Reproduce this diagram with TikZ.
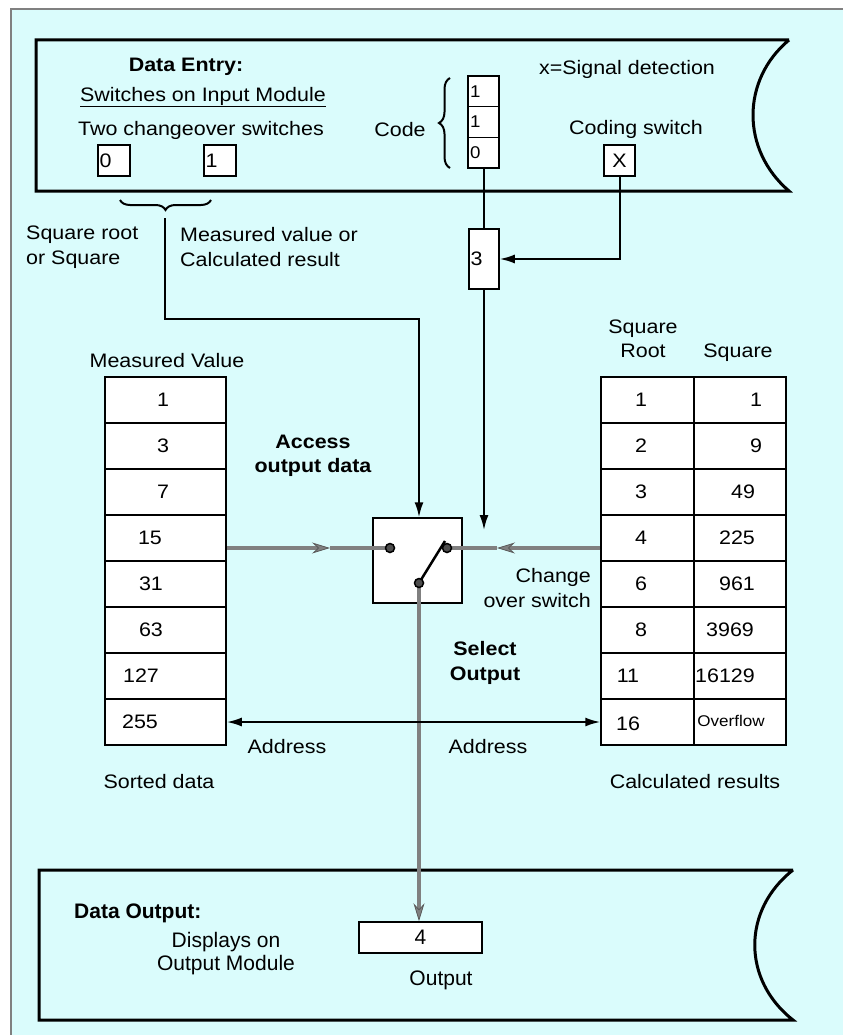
\documentclass[tikz,border=0pt]{standalone}
\usepackage{fontspec}
\setmainfont[FakeStretch=1.1]{Liberation Sans}
\newfontfamily\plainsans{Liberation Sans}
\usetikzlibrary{arrows.meta,decorations.pathreplacing}
\definecolor{bgc}{RGB}{218,252,252}
\definecolor{wirec}{RGB}{128,128,128}
\newcommand\mainsz{\fontsize{19.5}{24.5}\selectfont}
\newcommand\botsz{\plainsans\fontsize{21}{23}\selectfont}
\begin{document}
\begin{tikzpicture}[x=1pt,y=-1pt,
  txt/.style={font=\mainsz, inner sep=0pt, align=center},
  btxt/.style={font=\mainsz\bfseries, inner sep=0pt, align=center},
  box/.style={draw, line width=1.5pt, fill=white, inner sep=0pt, font=\mainsz},
  cell/.style={draw, line width=1.5pt, fill=white, inner sep=0pt, minimum height=46pt},
  blk/.style={line width=2pt},
  arr/.style={-{Latex[length=15pt,width=9pt]}},
  wire/.style={draw=wirec, line width=4pt},
  warr/.style={-{Stealth[length=18pt,width=11pt,inset=6pt,fill=wirec,color=wirec!70!black,line width=0.8pt]}},
  contact/.style={circle, draw, fill=wirec!60!black, line width=1.5pt, minimum size=9pt, inner sep=0pt},
  panel/.style={line width=3pt},
  brc/.style={decorate, line width=2pt}
]
\useasboundingbox (0,0) rectangle (843,1035);
\fill[bgc] (11,9) rectangle (843,1035);
\draw[wirec, line width=1.5pt] (11,1035) -- (11,9) -- (843,9);

% top panel
\draw[panel] (789,40) -- (36,40) -- (36,191) -- (789,191) .. controls (741,150) and (741,80) .. (789,40);
\node[btxt] (tEntry) at (186,67) {Data Entry:};
\node[txt] (tSwitches) at (203,97) {\underline{Switches on Input Module}};
\node[txt] (tTwo) at (201,130) {Two changeover switches};
\node[box, minimum width=32pt, minimum height=31pt, text width=29pt, align=left, inner xsep=1.5pt] (S0) at (114,160.5) {0};
\node[box, minimum width=32pt, minimum height=31pt, text width=29pt, align=left, inner xsep=1.5pt] (S1) at (220,160.5) {1};
\node[txt] (tCode) at (400,130) {Code};
\draw[brc, decoration={brace, amplitude=11pt}] (450,168) -- (450,78);
\node[box, minimum width=31pt, minimum height=30.7pt, text width=27pt, align=left, inner xsep=2pt, font=\fontsize{17}{20}\selectfont] (C1) at (483.5,91.3) {1};
\node[box, minimum width=31pt, minimum height=30.7pt, text width=27pt, align=left, inner xsep=2pt, font=\fontsize{17}{20}\selectfont] (C2) at (483.5,122) {1};
\node[box, minimum width=31pt, minimum height=30.7pt, text width=27pt, align=left, inner xsep=2pt, font=\fontsize{17}{20}\selectfont] (C3) at (483.5,152.7) {0};
\node[txt] (tSig) at (627,69) {x=Signal detection};
\node[txt] (tCoding) at (636,129) {Coding switch};
\node[box, minimum width=31pt, minimum height=31pt] (X) at (619.5,160.5) {X};

% brace under switches
\draw[brc, decoration={brace, amplitude=10pt, mirror}] (120,200) -- (211,200);
\coordinate (bt) at (165,218);
\node[txt, anchor=west, align=left] (tSq) at (26,247) {Square root\\or Square};
\node[txt, anchor=west, align=left] (tMv) at (180,247) {Measured value or\\Calculated result};

% box 3
\node[box, minimum width=30pt, minimum height=60pt, text width=27pt, align=left, inner xsep=1.5pt] (B3) at (484,259) {3};
\draw[blk] (C3.south) -- (C3.south |- B3.north);
\draw[blk, arr] (X.south) |- (B3.east);

% left table
\node[txt] (tMeas) at (167,361) {Measured Value};
\foreach \i/\t/\x in {1/1/163,2/3/163,3/7/163,4/15/150,5/31/151,6/63/151,7/127/141,8/255/140} {
  \node[cell, minimum width=121pt] (L\i) at (165.5,{377+46*(\i-0.5)}) {};
  \node[txt] (L\i t) at (\x,{377+46*(\i-0.5)}) {\t};
}
% right table
\node[txt] (tRoot) at (643,339) {Square\\Root};
\node[txt] (tSquare) at (738,353) {Square};
\foreach \i/\a/\xa/\b/\xb in {1/1/641/1/756,2/2/641/9/756,3/3/641/49/743,4/4/641/225/737,5/6/641/961/737,6/8/641/3969/730,7/11/628/16129/725} {
  \node[cell, minimum width=93pt] (R\i) at (647.5,{377+46*(\i-0.5)}) {};
  \node[cell, minimum width=92pt] (Q\i) at (740,{377+46*(\i-0.5)}) {};
  \node[txt] (R\i t) at (\xa,{377+46*(\i-0.5)}) {\a};
  \node[txt] (Q\i t) at (\xb,{377+46*(\i-0.5)}) {\b};
}
\node[cell, minimum width=93pt] (R8) at (647.5,722) {};
\node[cell, minimum width=92pt] (Q8) at (740,722) {};
\node[txt] (R8t) at (628,724) {16};
\node[txt, font=\fontsize{15.5}{18}\selectfont] (Q8t) at (731,721) {Overflow};

% switch
\node[box, minimum width=89pt, minimum height=85pt] (SW) at (417.5,560.5) {};
\coordinate (cLp) at (390,548);
\coordinate (cRp) at (447,548);
\coordinate (cPp) at (419,583);
\node[txt] (tAccess) at (313,456) {\bfseries Access\\\bfseries output data};
\node[txt, anchor=east, align=right] (tChange) at (591,588) {Change\\over switch};
\node[txt] (tSelect) at (485,663) {\bfseries Select\\\bfseries Output};

% bottom panel
\draw[panel] (793,870) -- (39,870) -- (39,1020) -- (793,1020) .. controls (742,980) and (742,910) .. (793,870);
\node[font=\botsz\bfseries, inner sep=0pt, anchor=west] (tOut) at (74,913) {Data Output:};
\node[font=\botsz, inner sep=0pt, align=center] (tDisp) at (226,954) {Displays on\\Output Module};
\node[box, minimum width=123pt, minimum height=31pt, font=\botsz] (Out) at (420.5,937.5) {4};
\node[font=\botsz, inner sep=0pt] (tOutput) at (441,980) {Output};

% gray wires
\coordinate (mL) at (330,548);
\coordinate (mR) at (497,548);
\draw[wire, warr] (L4.east |- cLp) -- (mL);
\draw[wire] (mL) -- (cLp);
\draw[wire, warr] (R4.west |- cRp) -- (mR);
\draw[wire] (mR) -- (cRp);
\draw[wire, warr] (cPp) -- (cPp |- Out.north);
\draw[line width=2.5pt] (cPp) -- (445,541);
\node[contact] (cL) at (cLp) {};
\node[contact] (cR) at (cRp) {};
\node[contact] (cP) at (cPp) {};

% black arrows
\coordinate (b1) at (419,319);
\draw[blk, arr] (bt) |- (b1) -- (b1 |- SW.north);
\coordinate (a3) at (484,530);
\draw[blk, arr] (B3.south) -- (a3);
\draw[blk, {Latex[length=15pt,width=9pt]}-{Latex[length=15pt,width=9pt]}] (L8.east) -- (R8.west);
\node[txt] (tAddr1) at (287,747) {Address};
\node[txt] (tAddr2) at (488,747) {Address};
\node[txt] (tSorted) at (159,782) {Sorted data};
\node[txt] (tCalc) at (695,782) {Calculated results};
\end{tikzpicture}
\end{document}
